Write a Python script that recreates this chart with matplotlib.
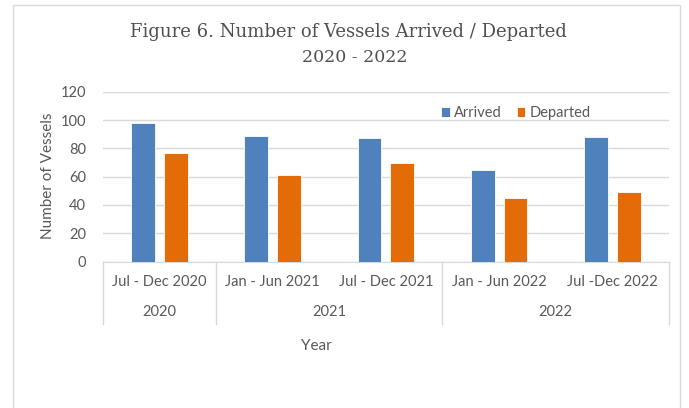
import matplotlib
matplotlib.use("Agg")
from matplotlib import pyplot as plt
from matplotlib import patches
import numpy as np

# values
periods = ["Jul - Dec 2020", "Jan - Jun 2021", "Jul - Dec 2021", "Jan - Jun 2022", "Jul -Dec 2022"]
years = ["2020", "2021", "2022"]
year_spans = [(0, 0), (1, 2), (3, 4)]
arrived = [98, 89, 87, 65, 88]
departed = [77, 61, 70, 45, 49]

blue = "#4f81bd"
orange = "#e36c09"
grey = "#595959"
light = "#d9d9d9"

plt.rcParams['font.family'] = ['Lato', 'DejaVu Sans']

fig = plt.figure(figsize=(6.89, 4.08), dpi=100)
ax = fig.add_axes([0.149, 0.359, 0.822, 0.416])

# chart border
fig.patches.append(patches.Rectangle((13 / 689, -0.1), 667 / 689, 1.1 - 5 / 408,
                                     transform=fig.transFigure, fill=False,
                                     ec=light, lw=1))

x = np.arange(len(periods))
w = 0.21
ax.bar(x - 0.145, arrived, w, color=blue, ec="white", lw=0.6, label="Arrived", zorder=3)
ax.bar(x + 0.145, departed, w, color=orange, ec="white", lw=0.6, label="Departed", zorder=3)

ax.set_xlim(-0.5, len(periods) - 0.5)
ax.set_ylim(0, 120)
ax.set_yticks(range(0, 121, 20))
ax.yaxis.grid(True, color=light, lw=1)
ax.set_axisbelow(True)
ax.tick_params(axis="y", length=0, labelsize=10.5, labelcolor=grey, pad=12)
ax.set_xticks([])
for s in ["top", "right", "left"]:
    ax.spines[s].set_visible(False)
ax.spines["bottom"].set_color(light)

# multi-level category axis
for sep in [-0.5, 0.5, 2.5, 4.5]:
    ax.plot([sep, sep], [0, -0.368], transform=ax.get_xaxis_transform(),
            color=light, lw=1, clip_on=False)
for i, p in enumerate(periods):
    ax.text(i, -0.121, p, transform=ax.get_xaxis_transform(), ha="center",
            va="center", fontsize=10.5, color=grey)
for yr, (a, b) in zip(years, year_spans):
    ax.text((a + b) / 2, -0.297, yr, transform=ax.get_xaxis_transform(),
            ha="center", va="center", fontsize=10.5, color=grey)

fig.text(316 / 689, 1 - 346 / 408, "Year", ha="center", va="center", fontsize=11, color=grey)
fig.text(48 / 689, 1 - 176 / 408, "Number of Vessels", ha="center", va="center",
         rotation=90, fontsize=11, color=grey)

fig.text(348 / 689, 1 - 32 / 408, "Figure 6. Number of Vessels Arrived / Departed",
         ha="center", va="center", fontsize=13, color="#505050", family="DejaVu Serif")
fig.text(355 / 689, 1 - 58 / 408, "2020 - 2022",
         ha="center", va="center", fontsize=12.5, color="#505050", family="DejaVu Serif")

ax.legend(loc="center", bbox_to_anchor=(0.73, 0.875), ncol=2, frameon=False,
          fontsize=10.5, labelcolor=grey, handlelength=0.6, handleheight=0.6,
          handletextpad=0.3, columnspacing=1.0)

fig.savefig("out.png", dpi=100)
